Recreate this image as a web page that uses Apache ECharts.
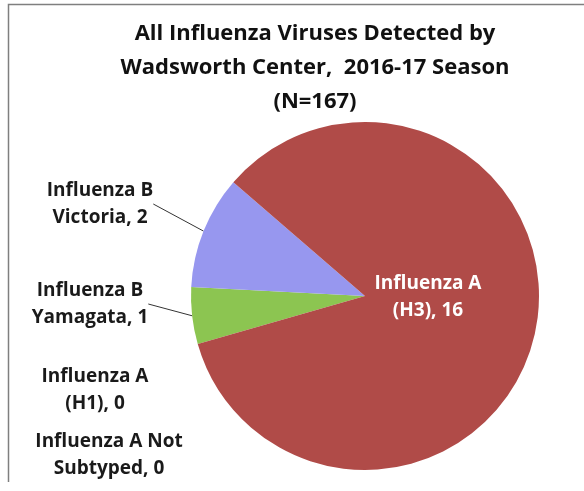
<!DOCTYPE html>
<html>
<head>
<meta charset="utf-8">
<script src="https://cdn.jsdelivr.net/npm/echarts@6/dist/echarts.min.js"></script>
<style>
html,body{margin:0;padding:0;background:#fff;}
#chart{width:584px;height:491px;}
</style>
</head>
<body>
<div id="chart"></div>
<script>
// ---- data ----
const titleText = 'All Influenza Viruses Detected by\nWadsworth Center,  2016-17 Season\n(N=167)';
const categories = ['Influenza B Yamagata', 'Influenza B Victoria', 'Influenza A (H3)', 'Influenza A (H1)', 'Influenza A Not Subtyped'];
const labelNames = ['Influenza B\nYamagata', 'Influenza B\nVictoria', 'Influenza A\n(H3)', 'Influenza A\n(H1)', 'Influenza A Not\nSubtyped'];
const values = [1, 2, 16, 0, 0];

// ---- styles / layout ----
const colors = ['#8cc551', '#9797ef', '#b04b48', '#4f81bd', '#8064a2'];
const labelPos = [[90, 304], [100, 204], [428, 297], [95, 390], [109, 455]];
const insideIdx = 2;

const chart = echarts.init(document.getElementById('chart'));
const data = categories.map((c, i) => ({
  name: c,
  value: values[i],
  itemStyle: { color: colors[i] },
  label: i === insideIdx ? { color: '#ffffff', position: 'inside' } : { color: '#1a1a1a', position: 'outside' },
  labelLine: { show: (i < 2) }
}));

chart.setOption({
  animation: false,
  title: {
    text: titleText,
    left: 315,
    top: 17,
    padding: 0,
    textAlign: 'center',
    textStyle: { fontFamily: 'Open Sans', fontWeight: 'bold', fontSize: 22, lineHeight: 34, color: '#111' }
  },
  graphic: [{
    type: 'polyline',
    shape: { points: [[8.5, 482], [8.5, 4.5], [584, 4.5]] },
    style: { stroke: '#7f7f7f', lineWidth: 1.5, fill: null },
    silent: true
  }],
  series: [{
    type: 'pie',
    center: [365, 296],
    radius: 174,
    startAngle: 196,
    clockwise: true,
    silent: true,
    avoidLabelOverlap: false,
    data: data,
    itemStyle: { borderWidth: 0 },
    label: {
      fontFamily: 'Open Sans',
      fontWeight: 'bold',
      fontSize: 19,
      lineHeight: 27,
      align: 'center',
      formatter: (p) => labelNames[p.dataIndex] + ', ' + p.value
    },
    labelLine: { length: 10, length2: 0, lineStyle: { color: '#333', width: 1 } },
    labelLayout: (p) => ({
      x: labelPos[p.dataIndex][0],
      y: labelPos[p.dataIndex][1],
      align: 'center',
      verticalAlign: 'middle'
    })
  }]
});
</script>
</body>
</html>
